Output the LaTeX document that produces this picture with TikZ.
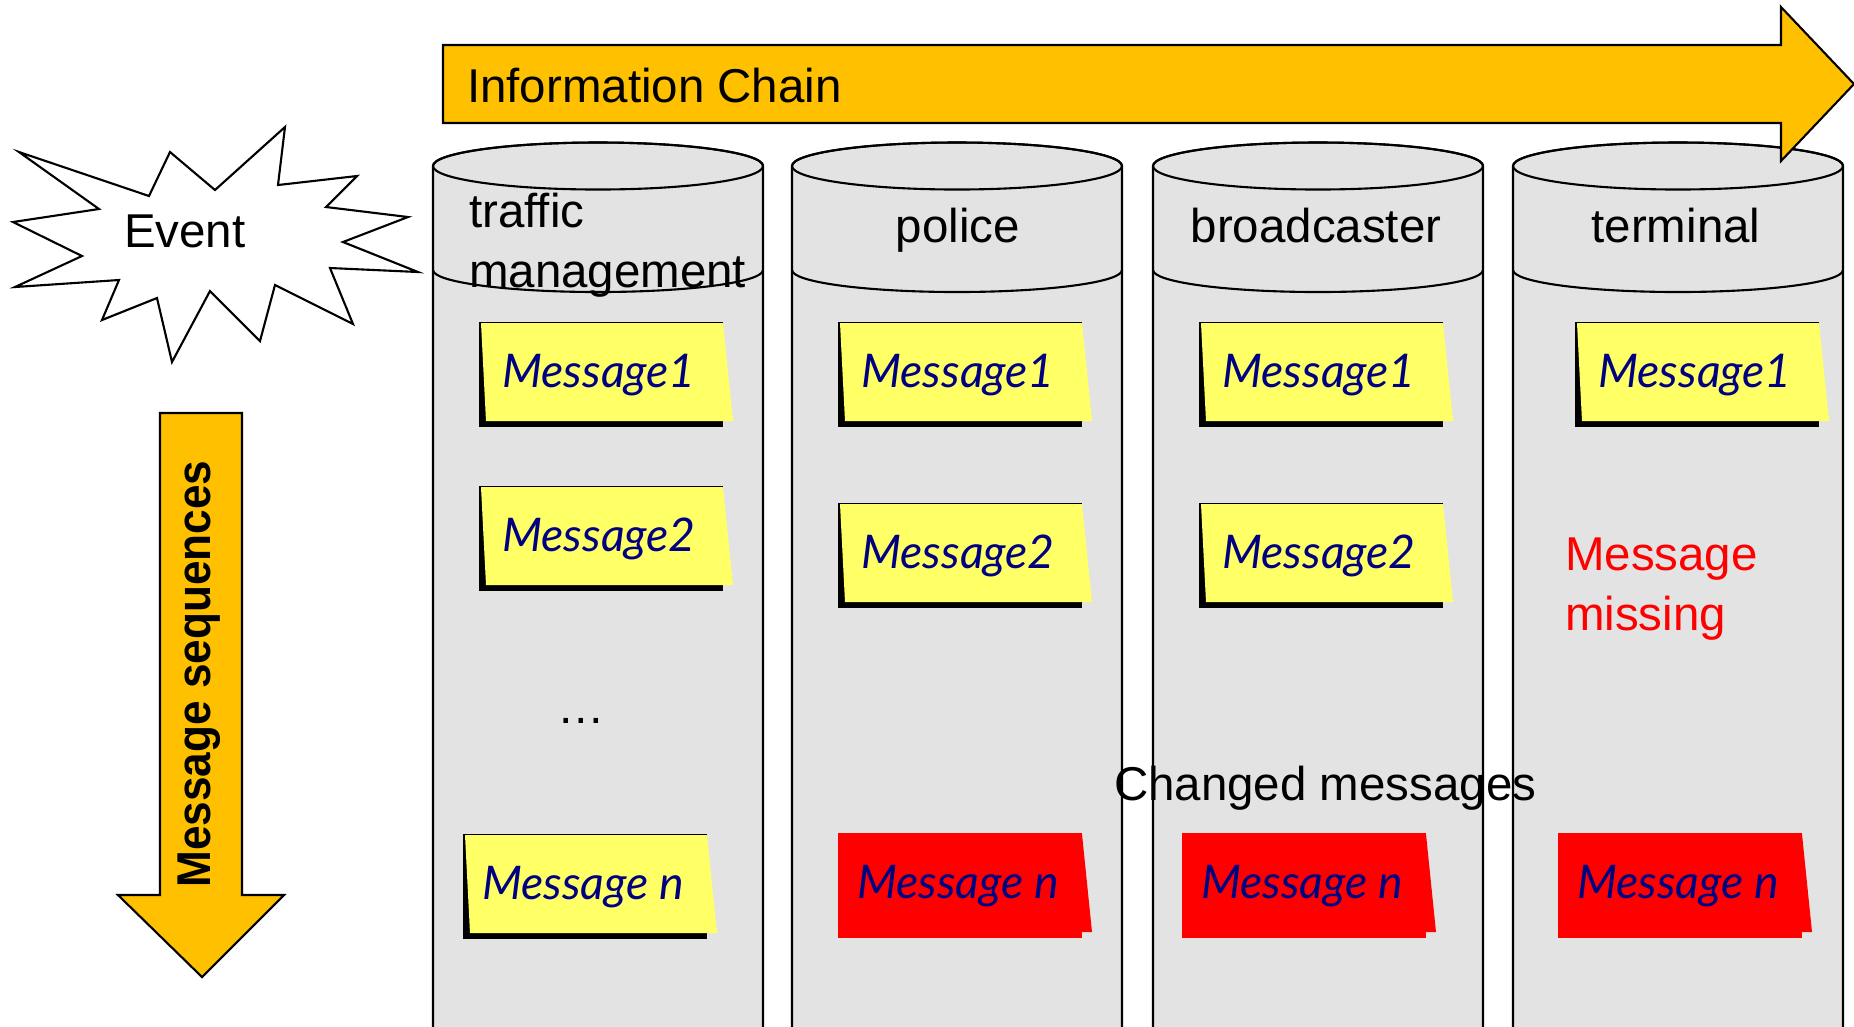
\documentclass[tikz,border=0pt]{standalone}
\usepackage{fontspec}
\setmainfont{Liberation Sans}
\newfontfamily\notefont{Lato}

\definecolor{chainorange}{HTML}{FFC000}
\definecolor{cylgray}{HTML}{E3E3E3}
\definecolor{noteyellow}{HTML}{FFFF66}
\definecolor{notenavy}{HTML}{000080}

% sticky note: name, top left corner, text, paper colour, backing colour
\newcommand{\stickynote}[5]{%
  \fill[#5,shift={(#2)}] (0,0) rectangle (244,105);
  \fill[#4,shift={(#2)}] (2,1) -- (244,1) -- (254,99) -- (7,99) -- cycle;
  \node[msg] (#1) at ([shift={(120,65)}]#2) {#3};
}

\begin{document}
\begin{tikzpicture}[x=0.01cm,y=-0.01cm,line width=0.6pt,
        lbl/.style={inner sep=0pt, font=\fontsize{13.5}{17}\selectfont},
        msg/.style={anchor=base, inner sep=0pt, text=notenavy,
            font=\notefont\itshape\fontsize{13.2}{15}\selectfont},
        cyl/.style={draw=black, fill=cylgray},
        bigarrow/.style={draw=black, fill=chainorange}
    ]
    \useasboundingbox (0,0) rectangle (1854,1026);

    % the four stations of the chain
    \foreach \cl in {433,792,1153,1513}{
        \filldraw[cyl] (\cl,1040) -- (\cl,166) arc[start angle=180,end angle=360,x radius=165,y radius=23.5] -- (\cl+330,1040);
        \draw (\cl+165,166) ellipse[x radius=165,y radius=23.5];
        \draw (\cl,270) arc[start angle=180,end angle=0,x radius=165,y radius=22];
    }

    \filldraw[bigarrow] (443,45) -- (1781,45) -- (1781,7) -- (1854,84) -- (1781,161) -- (1781,123) -- (443,123) -- cycle;
    \node[lbl, anchor=base west] (chain) at (466,102) {Information Chain};

    \filldraw[bigarrow] (160,413) -- (242,413) -- (242,895) -- (284,895) -- (202,977) -- (118,895) -- (160,895) -- cycle;
    \node[lbl, rotate=90, font=\bfseries\fontsize{13.5}{16}\selectfont] (seq) at (199,674) {\scalebox{0.93}[1]{Message sequences}};

    \filldraw[draw=black, fill=white] (19,152) -- (149,196) -- (170,152) -- (215,190) -- (285,127) -- (278,185)
        -- (357,176) -- (326,207) -- (408,217) -- (343,242) -- (418,272) -- (330,268) -- (353,324)
        -- (275,285) -- (260,341) -- (210,291) -- (172,362) -- (157,298) -- (102,320) -- (119,280)
        -- (15,287) -- (82,256) -- (13,222) -- (99,209) -- cycle;
    \node[lbl, anchor=base west] (event) at (123,247) {Event};

    \node[lbl, anchor=base west, align=left] (traffic) at (468,287) {traffic\\management};
    \node[lbl, anchor=base] (police) at (958,242) {police};
    \node[lbl, anchor=base] (broadcaster) at (1316,242) {broadcaster};
    \node[lbl, anchor=base] (terminal) at (1676,242) {terminal};

    \stickynote{tm1}{479,322}{Message1}{noteyellow}{black}
    \stickynote{tm2}{479,486}{Message2}{noteyellow}{black}
    \node[lbl, anchor=base] (dots) at (581,723) {…};
    \stickynote{tmn}{463,834}{Message n}{noteyellow}{black}

    \stickynote{po1}{838,322}{Message1}{noteyellow}{black}
    \stickynote{po2}{838,503}{Message2}{noteyellow}{black}
    \stickynote{pon}{838,833}{Message n}{red}{red}

    \stickynote{bc1}{1199,322}{Message1}{noteyellow}{black}
    \stickynote{bc2}{1199,503}{Message2}{noteyellow}{black}
    \stickynote{bcn}{1182,833}{Message n}{red}{red}

    \stickynote{te1}{1575,322}{Message1}{noteyellow}{black}
    \node[lbl, anchor=base west, align=left, text=red] (missing) at (1564,630) {Message\\missing};
    \stickynote{ten}{1558,833}{Message n}{red}{red}

    \node[lbl, anchor=base west] (changed) at (1113,800) {Changed messages};
\end{tikzpicture}
\end{document}
